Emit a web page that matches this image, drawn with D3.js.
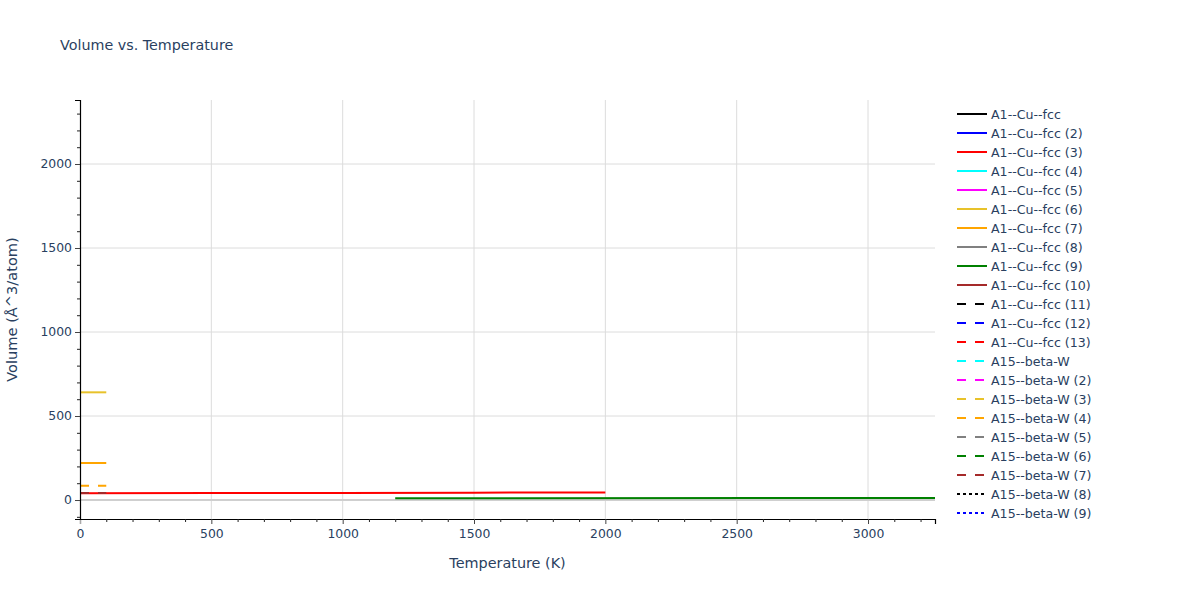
<html>
<head>
<script src="https://cdn.jsdelivr.net/npm/d3@7"></script>
<style>
  body { margin: 0; background: #fff; }
  text { font-family: "DejaVu Sans", Verdana, sans-serif; fill: #2a3f5f; }
</style>
</head>
<body>
<svg id="CANVAS" width="1200" height="600"></svg>
<script>
var W = 1200, H = 600;
var M = { left: 80, right: 935, top: 100, bottom: 519 };

var xTicks = [0, 500, 1000, 1500, 2000, 2500, 3000];
var yTicks = [0, 500, 1000, 1500, 2000];
var xRange = [0, 3255];
var yRange = [-113, 2381];

// legend entries
var names = ["A1--Cu--fcc", "A1--Cu--fcc (2)", "A1--Cu--fcc (3)", "A1--Cu--fcc (4)", "A1--Cu--fcc (5)",
  "A1--Cu--fcc (6)", "A1--Cu--fcc (7)", "A1--Cu--fcc (8)", "A1--Cu--fcc (9)", "A1--Cu--fcc (10)",
  "A1--Cu--fcc (11)", "A1--Cu--fcc (12)", "A1--Cu--fcc (13)", "A15--beta-W", "A15--beta-W (2)",
  "A15--beta-W (3)", "A15--beta-W (4)", "A15--beta-W (5)", "A15--beta-W (6)", "A15--beta-W (7)",
  "A15--beta-W (8)", "A15--beta-W (9)"];
var colors = ["black", "blue", "red", "cyan", "magenta", "#e8c22a", "orange", "gray", "green", "brown",
  "black", "blue", "red", "cyan", "magenta", "#e8c22a", "orange", "gray", "green", "brown",
  "black", "blue"];
var dashes = ["solid", "solid", "solid", "solid", "solid", "solid", "solid", "solid", "solid", "solid",
  "dash", "dash", "dash", "dash", "dash", "dash", "dash", "dash", "dash", "dash",
  "dot", "dot"];

// visible series (temperature, volume)
var tempRed = [0, 500, 1000, 1500, 2000];
var volRed = [40, 41.3, 42.5, 43.8, 45];
var tempLow = [0, 100];
var volYellow = [641, 641];
var volOrange = [220, 221];
var volOrangeDash = [85, 85];
var volBrownDash = [42, 42];
var tempGreen = [1200, 3300];
var volGreen = [11, 12];

function pts(t, v) { return t.map(function (d, i) { return [d, v[i]]; }); }
var series = names.map(function () { return []; });
series[2] = pts(tempRed, volRed);
series[5] = pts(tempLow, volYellow);
series[6] = pts(tempLow, volOrange);
series[8] = pts(tempGreen, volGreen);
series[16] = pts(tempLow, volOrangeDash);
series[19] = pts(tempLow, volBrownDash);

function dashArr(d) { return d == "dash" ? "9,9" : d == "dot" ? "3,3" : null; }

var x = d3.scaleLinear().domain(xRange).range([M.left, M.right]);
var y = d3.scaleLinear().domain(yRange).range([M.bottom, M.top]);

var svg = d3.select("#CANVAS");

// grid
svg.append("g").selectAll("line").data(xTicks.filter(function (d) { return d > 0; })).enter().append("line")
  .attr("x1", function (d) { return x(d); }).attr("x2", function (d) { return x(d); })
  .attr("y1", M.top).attr("y2", M.bottom)
  .attr("stroke", "#dcdcdc").attr("stroke-width", 1);
svg.append("g").selectAll("line").data(yTicks.filter(function (d) { return d != 0; })).enter().append("line")
  .attr("x1", M.left).attr("x2", M.right)
  .attr("y1", function (d) { return y(d); }).attr("y2", function (d) { return y(d); })
  .attr("stroke", "#dcdcdc").attr("stroke-width", 1);
// zero line
svg.append("line").attr("x1", M.left).attr("x2", M.right)
  .attr("y1", y(0)).attr("y2", y(0))
  .attr("stroke", "#cfcfcf").attr("stroke-width", 2);

// lines
svg.append("clipPath").attr("id", "clip").append("rect")
  .attr("x", M.left).attr("y", M.top).attr("width", M.right - M.left).attr("height", M.bottom - M.top);
var line = d3.line().x(function (d) { return x(d[0]); }).y(function (d) { return y(d[1]); });
svg.append("g").attr("clip-path", "url(#clip)").selectAll("path").data(series).enter().append("path")
  .filter(function (d) { return d.length > 0; })
  .attr("d", line)
  .attr("fill", "none")
  .attr("stroke", function (d, i) { return colors[series.indexOf(d)]; })
  .attr("stroke-dasharray", function (d) { return dashArr(dashes[series.indexOf(d)]); })
  .attr("stroke-width", 2);

// axes
var minorX = d3.range(0, 3300, 100).filter(function (d) { return d % 500 != 0; });
var minorY = d3.range(-100, 2400, 100).filter(function (d) { return d % 500 != 0 && d >= yRange[0] && d <= yRange[1]; });

var xAxis = d3.axisBottom(x).tickValues(xTicks).tickSize(5).tickPadding(5).tickFormat(d3.format("d"));
var gx = svg.append("g").attr("transform", "translate(0," + M.bottom + ")").call(xAxis);
var gxm = svg.append("g").attr("transform", "translate(0," + M.bottom + ")")
  .call(d3.axisBottom(x).tickValues(minorX).tickSize(3).tickFormat(""));
gxm.select(".domain").remove();

var yAxis = d3.axisLeft(y).tickValues(yTicks).tickSize(5).tickPadding(3).tickFormat(d3.format("d"));
var gy = svg.append("g").attr("transform", "translate(" + M.left + ",0)").call(yAxis);
var gym = svg.append("g").attr("transform", "translate(" + M.left + ",0)")
  .call(d3.axisLeft(y).tickValues(minorY).tickSize(3).tickFormat(""));
gym.select(".domain").remove();

[gx, gy].forEach(function (g) {
  g.select(".domain").attr("stroke", "black").attr("stroke-width", 1.2);
  g.selectAll(".tick line").attr("stroke", "#444");
  g.selectAll(".tick text").style("font-size", "12.4px").style("font-family", "'DejaVu Sans', Verdana, sans-serif").attr("fill", "#2a3f5f");
});
gx.selectAll(".tick line").filter(function (d) { return d == 0; }).attr("stroke", "#aaa");
[gxm, gym].forEach(function (g) { g.selectAll(".tick line").attr("stroke", "#222"); });

// titles
svg.append("text").attr("x", 60).attr("y", 50).style("font-size", "14.3px").text("Volume vs. Temperature");
svg.append("text").attr("x", (M.left + M.right) / 2).attr("y", 568).attr("text-anchor", "middle")
  .style("font-size", "14.4px").text("Temperature (K)");
svg.append("text").attr("transform", "translate(17," + ((M.top + M.bottom) / 2) + ") rotate(-90)")
  .attr("text-anchor", "middle").style("font-size", "14.6px").text("Volume (Å^3/atom)");

// legend
var lg = svg.append("g").selectAll("g").data(names).enter().append("g")
  .attr("transform", function (d, i) { return "translate(957," + (114 + i * 19) + ")"; });
lg.append("line").attr("x1", 0).attr("x2", 30).attr("y1", 0).attr("y2", 0)
  .attr("stroke", function (d, i) { return colors[i]; })
  .attr("stroke-dasharray", function (d, i) { return dashArr(dashes[i]); })
  .attr("stroke-width", 2);
lg.append("text").attr("x", 34).attr("y", 4.5).style("font-size", "12.6px").text(function (d) { return d; });
</script>
</body>
</html>
